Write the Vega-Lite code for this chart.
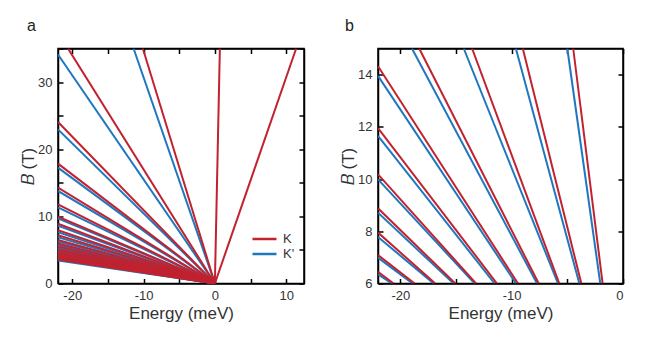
{
  "$schema": "https://vega.github.io/schema/vega-lite/v6.json",
  "padding": {"left": 18, "top": 16.5, "right": 5, "bottom": 5},
  "background": "white",
  "datasets": {
    "aK": [
      {"valley": "K", "line": "K-1", "E": 0, "B": 0}, {"valley": "K", "line": "K-1", "E": 11.4, "B": 35},
      {"valley": "K", "line": "K0", "E": 0, "B": 0}, {"valley": "K", "line": "K0", "E": 0.7, "B": 35},
      {"valley": "K", "line": "K1", "E": 0, "B": 0}, {"valley": "K", "line": "K1", "E": -10.1, "B": 35},
      {"valley": "K", "line": "K2", "E": 0, "B": 0}, {"valley": "K", "line": "K2", "E": -20.6, "B": 35},
      {"valley": "K", "line": "K3", "E": 0, "B": 0}, {"valley": "K", "line": "K3", "E": -22, "B": 24.05},
      {"valley": "K", "line": "K4", "E": 0, "B": 0}, {"valley": "K", "line": "K4", "E": -22, "B": 17.85},
      {"valley": "K", "line": "K5", "E": 0, "B": 0}, {"valley": "K", "line": "K5", "E": -22, "B": 14.27},
      {"valley": "K", "line": "K6", "E": 0, "B": 0}, {"valley": "K", "line": "K6", "E": -22, "B": 11.8},
      {"valley": "K", "line": "K7", "E": 0, "B": 0}, {"valley": "K", "line": "K7", "E": -22, "B": 9.95},
      {"valley": "K", "line": "K8", "E": 0, "B": 0}, {"valley": "K", "line": "K8", "E": -22, "B": 8.9},
      {"valley": "K", "line": "K9", "E": 0, "B": 0}, {"valley": "K", "line": "K9", "E": -22, "B": 7.95},
      {"valley": "K", "line": "K10", "E": 0, "B": 0}, {"valley": "K", "line": "K10", "E": -22, "B": 7.2},
      {"valley": "K", "line": "K11", "E": 0, "B": 0}, {"valley": "K", "line": "K11", "E": -22, "B": 6.5},
      {"valley": "K", "line": "K12", "E": 0, "B": 0}, {"valley": "K", "line": "K12", "E": -22, "B": 5.95},
      {"valley": "K", "line": "K13", "E": 0, "B": 0}, {"valley": "K", "line": "K13", "E": -22, "B": 5.5},
      {"valley": "K", "line": "K14", "E": 0, "B": 0}, {"valley": "K", "line": "K14", "E": -22, "B": 5.1},
      {"valley": "K", "line": "K15", "E": 0, "B": 0}, {"valley": "K", "line": "K15", "E": -22, "B": 4.78},
      {"valley": "K", "line": "K16", "E": 0, "B": 0}, {"valley": "K", "line": "K16", "E": -22, "B": 4.48},
      {"valley": "K", "line": "K17", "E": 0, "B": 0}, {"valley": "K", "line": "K17", "E": -22, "B": 4.22},
      {"valley": "K", "line": "K18", "E": 0, "B": 0}, {"valley": "K", "line": "K18", "E": -22, "B": 3.98},
      {"valley": "K", "line": "K19", "E": 0, "B": 0}, {"valley": "K", "line": "K19", "E": -22, "B": 3.77},
      {"valley": "K", "line": "K20", "E": 0, "B": 0}, {"valley": "K", "line": "K20", "E": -22, "B": 3.58}
    ],
    "aKp": [
      {"valley": "K'", "line": "P1", "E": 0, "B": 0}, {"valley": "K'", "line": "P1", "E": -11.4, "B": 35},
      {"valley": "K'", "line": "P2", "E": 0, "B": 0}, {"valley": "K'", "line": "P2", "E": -22, "B": 34.1},
      {"valley": "K'", "line": "P3", "E": 0, "B": 0}, {"valley": "K'", "line": "P3", "E": -22, "B": 22.96},
      {"valley": "K'", "line": "P4", "E": 0, "B": 0}, {"valley": "K'", "line": "P4", "E": -22, "B": 17.25},
      {"valley": "K'", "line": "P5", "E": 0, "B": 0}, {"valley": "K'", "line": "P5", "E": -22, "B": 13.78},
      {"valley": "K'", "line": "P6", "E": 0, "B": 0}, {"valley": "K'", "line": "P6", "E": -22, "B": 11.35},
      {"valley": "K'", "line": "P7", "E": 0, "B": 0}, {"valley": "K'", "line": "P7", "E": -22, "B": 9.7},
      {"valley": "K'", "line": "P8", "E": 0, "B": 0}, {"valley": "K'", "line": "P8", "E": -22, "B": 8.6},
      {"valley": "K'", "line": "P9", "E": 0, "B": 0}, {"valley": "K'", "line": "P9", "E": -22, "B": 7.64},
      {"valley": "K'", "line": "P10", "E": 0, "B": 0}, {"valley": "K'", "line": "P10", "E": -22, "B": 6.88},
      {"valley": "K'", "line": "P11", "E": 0, "B": 0}, {"valley": "K'", "line": "P11", "E": -22, "B": 6.25},
      {"valley": "K'", "line": "P12", "E": 0, "B": 0}, {"valley": "K'", "line": "P12", "E": -22, "B": 5.73},
      {"valley": "K'", "line": "P13", "E": 0, "B": 0}, {"valley": "K'", "line": "P13", "E": -22, "B": 5.29},
      {"valley": "K'", "line": "P14", "E": 0, "B": 0}, {"valley": "K'", "line": "P14", "E": -22, "B": 4.91},
      {"valley": "K'", "line": "P15", "E": 0, "B": 0}, {"valley": "K'", "line": "P15", "E": -22, "B": 4.58},
      {"valley": "K'", "line": "P16", "E": 0, "B": 0}, {"valley": "K'", "line": "P16", "E": -22, "B": 4.3},
      {"valley": "K'", "line": "P17", "E": 0, "B": 0}, {"valley": "K'", "line": "P17", "E": -22, "B": 4.05},
      {"valley": "K'", "line": "P18", "E": 0, "B": 0}, {"valley": "K'", "line": "P18", "E": -22, "B": 3.82},
      {"valley": "K'", "line": "P19", "E": 0, "B": 0}, {"valley": "K'", "line": "P19", "E": -22, "B": 3.62},
      {"valley": "K'", "line": "P20", "E": 0, "B": 0}, {"valley": "K'", "line": "P20", "E": -22, "B": 3.44}
    ],
    "bK": [
      {"valley": "K", "line": "K1", "E": -1.83, "B": 6}, {"valley": "K", "line": "K1", "E": -4.47, "B": 15},
      {"valley": "K", "line": "K2", "E": -3.74, "B": 6}, {"valley": "K", "line": "K2", "E": -9.0, "B": 15},
      {"valley": "K", "line": "K3", "E": -5.72, "B": 6}, {"valley": "K", "line": "K3", "E": -13.55, "B": 15},
      {"valley": "K", "line": "K4", "E": -7.57, "B": 6}, {"valley": "K", "line": "K4", "E": -18.3, "B": 15},
      {"valley": "K", "line": "K5", "E": -9.43, "B": 6}, {"valley": "K", "line": "K5", "E": -22, "B": 14.32},
      {"valley": "K", "line": "K6", "E": -11.32, "B": 6}, {"valley": "K", "line": "K6", "E": -22, "B": 11.95},
      {"valley": "K", "line": "K7", "E": -13.2, "B": 6}, {"valley": "K", "line": "K7", "E": -22, "B": 10.18},
      {"valley": "K", "line": "K8", "E": -15.06, "B": 6}, {"valley": "K", "line": "K8", "E": -22, "B": 8.88},
      {"valley": "K", "line": "K9", "E": -16.86, "B": 6}, {"valley": "K", "line": "K9", "E": -22, "B": 7.95},
      {"valley": "K", "line": "K10", "E": -18.71, "B": 6}, {"valley": "K", "line": "K10", "E": -22, "B": 7.09},
      {"valley": "K", "line": "K11", "E": -20.6, "B": 6}, {"valley": "K", "line": "K11", "E": -22, "B": 6.45}
    ],
    "bKp": [
      {"valley": "K'", "line": "P1", "E": -2.04, "B": 6}, {"valley": "K'", "line": "P1", "E": -5.0, "B": 15},
      {"valley": "K'", "line": "P2", "E": -3.92, "B": 6}, {"valley": "K'", "line": "P2", "E": -9.62, "B": 15},
      {"valley": "K'", "line": "P3", "E": -5.84, "B": 6}, {"valley": "K'", "line": "P3", "E": -14.3, "B": 15},
      {"valley": "K'", "line": "P4", "E": -7.72, "B": 6}, {"valley": "K'", "line": "P4", "E": -18.95, "B": 15},
      {"valley": "K'", "line": "P5", "E": -9.61, "B": 6}, {"valley": "K'", "line": "P5", "E": -22, "B": 13.95},
      {"valley": "K'", "line": "P6", "E": -11.53, "B": 6}, {"valley": "K'", "line": "P6", "E": -22, "B": 11.65},
      {"valley": "K'", "line": "P7", "E": -13.32, "B": 6}, {"valley": "K'", "line": "P7", "E": -22, "B": 9.99},
      {"valley": "K'", "line": "P8", "E": -15.21, "B": 6}, {"valley": "K'", "line": "P8", "E": -22, "B": 8.71},
      {"valley": "K'", "line": "P9", "E": -17.0, "B": 6}, {"valley": "K'", "line": "P9", "E": -22, "B": 7.78},
      {"valley": "K'", "line": "P10", "E": -18.89, "B": 6}, {"valley": "K'", "line": "P10", "E": -22, "B": 6.99},
      {"valley": "K'", "line": "P11", "E": -20.75, "B": 6}, {"valley": "K'", "line": "P11", "E": -22, "B": 6.35}
    ]
  },
  "hconcat": [
    {
      "title": {"text": "a", "anchor": "start", "frame": "group", "dx": -31, "offset": 14, "fontSize": 16, "fontWeight": "normal", "color": "#222"},
      "width": 246,
      "height": 235,
      "layer": [
        {
          "data": {"name": "aKp"},
          "mark": {"type": "line", "strokeWidth": 2, "clip": true},
          "encoding": {
            "x": {"field": "E", "type": "quantitative", "scale": {"domain": [-22, 12.5], "nice": false, "zero": false},
              "axis": {"orient": "bottom", "title": "Energy (meV)", "values": [-20, -15, -10, -5, 0, 5, 10], "labelExpr": "datum.value % 10 == 0 ? '' + datum.value : ''"}},
            "y": {"field": "B", "type": "quantitative", "scale": {"domain": [0, 35], "nice": false},
              "axis": {"orient": "left", "title": "𝐵 (T)", "values": [0, 5, 10, 15, 20, 25, 30, 35], "labelExpr": "datum.value % 10 == 0 ? '' + datum.value : ''"}},
            "detail": {"field": "line"},
            "color": {"field": "valley", "type": "nominal", "scale": {"domain": ["K", "K'"], "range": ["#C1222F", "#1F77BF"]},
              "legend": {"title": null, "orient": "none", "legendX": 199, "legendY": 183, "symbolType": "M-2,0L2,0", "symbolSize": 144, "symbolStrokeWidth": 2.5, "labelFontSize": 13, "labelColor": "#333", "labelOffset": 11, "rowPadding": 0}}
          }
        },
        {
          "data": {"name": "aK"},
          "mark": {"type": "line", "strokeWidth": 2, "clip": true},
          "encoding": {
            "x": {"field": "E", "type": "quantitative", "scale": {"domain": [-22, 12.5], "nice": false, "zero": false},
              "axis": {"orient": "top", "title": null, "labels": false, "values": [-20, -15, -10, -5, 0, 5, 10]}},
            "y": {"field": "B", "type": "quantitative", "scale": {"domain": [0, 35], "nice": false},
              "axis": {"orient": "right", "title": null, "labels": false, "values": [0, 5, 10, 15, 20, 25, 30, 35]}},
            "detail": {"field": "line"},
            "color": {"field": "valley", "type": "nominal", "scale": {"domain": ["K", "K'"], "range": ["#C1222F", "#1F77BF"]}}
          }
        }
      ],
      "resolve": {"axis": {"x": "independent", "y": "independent"}}
    },
    {
      "title": {"text": "b", "anchor": "start", "frame": "group", "dx": -33, "offset": 14, "fontSize": 16, "fontWeight": "normal", "color": "#222"},
      "width": 245,
      "height": 235,
      "layer": [
        {
          "data": {"name": "bKp"},
          "mark": {"type": "line", "strokeWidth": 2, "clip": true},
          "encoding": {
            "x": {"field": "E", "type": "quantitative", "scale": {"domain": [-22, 0], "nice": false, "zero": false},
              "axis": {"orient": "bottom", "title": "Energy (meV)", "values": [-20, -15, -10, -5, 0], "labelExpr": "datum.value % 10 == 0 ? '' + datum.value : ''"}},
            "y": {"field": "B", "type": "quantitative", "scale": {"domain": [6, 15], "nice": false, "zero": false},
              "axis": {"orient": "left", "title": "𝐵 (T)", "values": [6, 8, 10, 12, 14], "labelExpr": "'' + datum.value"}},
            "detail": {"field": "line"},
            "color": {"field": "valley", "type": "nominal", "scale": {"domain": ["K", "K'"], "range": ["#C1222F", "#1F77BF"]}, "legend": null}
          }
        },
        {
          "data": {"name": "bK"},
          "mark": {"type": "line", "strokeWidth": 2, "clip": true},
          "encoding": {
            "x": {"field": "E", "type": "quantitative", "scale": {"domain": [-22, 0], "nice": false, "zero": false},
              "axis": {"orient": "top", "title": null, "labels": false, "values": [-20, -15, -10, -5, 0]}},
            "y": {"field": "B", "type": "quantitative", "scale": {"domain": [6, 15], "nice": false, "zero": false},
              "axis": {"orient": "right", "title": null, "labels": false, "values": [6, 8, 10, 12, 14]}},
            "detail": {"field": "line"},
            "color": {"field": "valley", "type": "nominal", "scale": {"domain": ["K", "K'"], "range": ["#C1222F", "#1F77BF"]}, "legend": null}
          }
        }
      ],
      "resolve": {"axis": {"x": "independent", "y": "independent"}}
    }
  ],
  "spacing": 32,
  "resolve": {"scale": {"color": "independent"}},
  "config": {
    "font": "Liberation Sans",
    "view": {"stroke": "black", "strokeWidth": 1.5},
    "axis": {
      "grid": false,
      "domainColor": "black",
      "domainWidth": 1.5,
      "tickColor": "black",
      "tickWidth": 1.5,
      "tickSize": -5,
      "labelPadding": 11,
      "labelFontSize": 13,
      "labelColor": "#333",
      "titleFontSize": 17,
      "titleFontWeight": "normal",
      "titleColor": "#333"
    },
    "axisX": {"titlePadding": 2.5},
    "axisY": {"titlePadding": 0}
  }
}
